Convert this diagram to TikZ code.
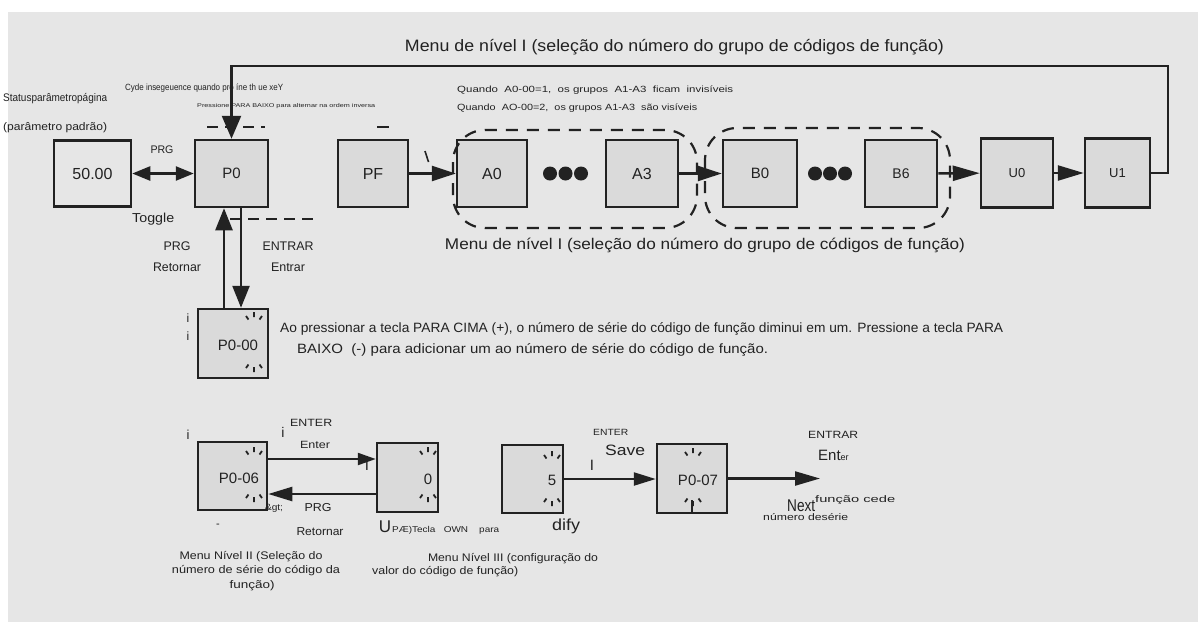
\documentclass[tikz,border=0pt]{standalone}
\usepackage{fontspec}
\setmainfont{Liberation Sans}
\usetikzlibrary{arrows.meta,calc}
\definecolor{bggray}{HTML}{E6E6E6}
\definecolor{boxgray}{HTML}{DADADA}
\definecolor{ink}{HTML}{222222}
\newcommand\fitw[2]{\resizebox{#1}{\height}{#2}}
\newcommand\fsz[1]{\fontsize{#1}{#1}\selectfont}
\tikzset{
  box/.style={draw=ink, line width=2.5pt, fill=boxgray, minimum width=70pt, minimum height=67pt, inner sep=0pt, text=ink, font=\fsz{15}},
  txt/.style={inner sep=0pt, text=ink},
  arr/.style={draw=ink, line width=2.5pt, -{Triangle[length=24pt,width=15pt]}},
  arrs/.style={draw=ink, line width=2.3pt, -{Triangle[length=22pt,width=13pt]}},
  arrv/.style={draw=ink, line width=2.5pt, -{Triangle[length=22pt,width=17pt]}},
  grp/.style={draw=ink, line width=2.2pt, dash pattern=on 12pt off 9pt, rounded corners=32pt},
  dsh/.style={draw=ink, line width=1.5pt, dash pattern=on 11pt off 7pt},
  stroke1/.style={draw=ink, line width=1.6pt},
  blinktop/.pic={\draw[draw=ink,line width=1.8pt] (-8,-2)--(-5.5,1.5) (0,-6)--(0,-1) (8,-2)--(5.5,1.5);},
  blinkbot/.pic={\draw[draw=ink,line width=1.8pt] (-8,2)--(-5.5,-1.5) (0,6)--(0,1) (8,2)--(5.5,-1.5);}
}
\begin{document}
\begin{tikzpicture}[x=1pt,y=-1pt]
\useasboundingbox (0,0) rectangle (1198,622);
\fill[white] (0,0) rectangle (1198,622);
\fill[bggray] (8,12) rectangle (1198,622);

% ---- top row boxes
\node[box, fill=bggray, minimum width=77pt, minimum height=66pt, font=\fsz{16}] (v5000) at (92.5,173.5) {50.00};
\node[box, minimum width=73pt, font=\fsz{15}] (P0) at (231.5,173.5) {P0};
\node[box, font=\fsz{16}] (PF) at (373,173.5) {PF};
\node[box, font=\fsz{16}] (A0) at (492,173.5) {A0};
\node[box, minimum width=72pt, font=\fsz{16}] (A3) at (642,173.5) {A3};
\node[box, minimum width=74pt, font=\fsz{15}] (B0) at (760,173.5) {B0};
\node[box, minimum width=72pt, font=\fsz{14}] (B6) at (901,173.5) {B6};
\node[box, minimum width=72pt, minimum height=69pt, font=\fsz{13}] (U0) at (1017,173) {U0};
\node[box, minimum width=65pt, minimum height=69pt, font=\fsz{13}] (U1) at (1117.5,173) {U1};

% dots
\foreach \cx in {550,565.5,581} \fill[ink] (\cx,173.5) circle (7pt);
\foreach \cx in {815,830,845} \fill[ink] (\cx,173.5) circle (7pt);

% dashed groups
\draw[grp] (453,130) rectangle (697,228);
\draw[grp] (705,128) rectangle (950,228);

% top connectors
\coordinate (loopR) at (1168,66);
\coordinate (loopL) at (231.5,66);
\draw[draw=ink, line width=2.5pt, line join=miter, -{Triangle[length=23pt,width=19pt]}] (U1.east) -| (loopR) -- (loopL) -- (P0.north);
\draw[draw=ink, line width=2.5pt, {Triangle[length=18pt,width=14pt]}-{Triangle[length=18pt,width=14pt]}] (v5000) -- (P0);
\draw[arr] (PF) -- (A0);
\draw[arr] (A3) -- (B0);
\draw[arr, -{Triangle[length=27pt,width=15pt]}] (B6) -- (U0);
\draw[arr, -{Triangle[length=26pt,width=15pt]}] (U0) -- (U1);

% small stray marks
\draw[dsh] (207,127) -- (265,127);
\draw[dsh] (230,219) -- (318,219);
\draw[stroke1] (377,127) -- (389,127);
\draw[stroke1] (425,151) -- (428.5,162);

% P0-00
\node[box, minimum width=70pt, minimum height=69pt] (P000) at (233,343.5) {};
\node[txt, font=\fsz{15}] (tP000) at (238,345) {P0-00};
\pic at (254,318) {blinktop};
\pic at (254,366) {blinkbot};
\draw[arrv] ($(P000.north)+(-9,0)$) -- ($(P0.south)+(-7.5,0)$);
\draw[arrv] ($(P0.south)+(9.5,0)$) -- ($(P000.north)+(8,0)$);

% bottom row
\node[box, minimum width=69pt, minimum height=68pt] (P006) at (232.5,476) {};
\node[txt, font=\fsz{15}] (tP006) at (239,478) {P0-06};
\node[box, minimum width=61pt, minimum height=69pt] (b0) at (407.5,477.5) {};
\node[txt, font=\fsz{15}] (tb0) at (428,479) {0};
\node[box, minimum width=61pt, minimum height=68pt] (b5) at (532.5,479) {};
\node[txt, font=\fsz{15}] (tb5) at (552,480) {5};
\node[box, minimum width=70pt, minimum height=69pt] (P007) at (692,478.5) {};
\node[txt, font=\fsz{15}] (tP007) at (698,480) {P0-07};
\pic at (254,453) {blinktop};
\pic at (254,496) {blinkbot};
\pic at (428,453) {blinktop};
\pic at (428,496) {blinkbot};
\pic at (552,457) {blinktop};
\pic at (552,500) {blinkbot};
\pic at (693,454) {blinktop};
\pic at (693,500) {blinkbot};
\draw[stroke1, line width=1.8pt] (692,500) -- (692,513);

\coordinate (e1) at ($(P006.east)+(0,-17)$);
\draw[arrs, -{Triangle[length=18pt,width=12pt]}] (e1) -- (e1 -| b0.west);
\coordinate (r1) at ($(b0.west)+(0,16.5)$);
\draw[arrs, -{Triangle[length=24pt,width=14pt]}] (r1) -- (r1 -| P006.east);
\draw[arrs] (b5.east) -- (b5.east -| P007.west);
\coordinate (nx) at (820,478.5);
\draw[arrs, -{Triangle[length=25pt,width=14pt]}] (P007.east) -- (nx);

% ---- texts
\node[txt] (h1) at (674.5,47) {\fitw{539pt}{\fsz{16.5}Menu de nível I (seleção do número do grupo de códigos de função)}};
\node[txt] (h2) at (705,245) {\fitw{520pt}{\fsz{15.5}Menu de nível I (seleção do número do grupo de códigos de função)}};
\node[txt, anchor=west] (q1) at (457,90) {\fitw{276pt}{\fsz{9}Quando~~A0-00=1,~~os grupos~~A1-A3~~ficam~~invisíveis}};
\node[txt, anchor=west] (q2) at (457,108) {\fitw{240pt}{\fsz{9}Quando~~AO-00=2,~~os grupos A1-A3~~são visíveis}};
\node[txt, anchor=west] (st1) at (3,99) {\fitw{104pt}{\fsz{11}Statusparâmetropágina}};
\node[txt, anchor=west] (st2) at (3,128) {\fitw{104pt}{\fsz{11}(parâmetro padrão)}};
\node[txt, anchor=west] (cy) at (125,88) {\fitw{158pt}{\fsz{9}Cyde insegeuence quando pro íne th ue xeY}};
\node[txt, anchor=west] (pr) at (197,106) {\fitw{178pt}{\fsz{5.5}Pressione PARA BAIXO para alternar na ordem inversa}};
\node[txt] (prg1) at (162,150) {\fitw{23pt}{\fsz{11}PRG}};
\node[txt, anchor=west] (tog) at (132,219) {\fitw{42pt}{\fsz{13}Toggle}};
\node[txt] (prg2) at (177,246) {\fitw{27pt}{\fsz{12.5}PRG}};
\node[txt] (ret1) at (177,267) {\fitw{48pt}{\fsz{12.5}Retornar}};
\node[txt] (ent1) at (288,246) {\fitw{51pt}{\fsz{12.5}ENTRAR}};
\node[txt] (ent2) at (288,267) {\fitw{34pt}{\fsz{12.5}Entrar}};
\node[txt, font=\fsz{12}] (ia) at (188,318) {i};
\node[txt, font=\fsz{12}] (ib) at (188,336) {i};
\node[txt, anchor=west] (d1) at (280,329) {\fitw{723pt}{\fsz{13.5}Ao pressionar a tecla PARA CIMA (+), o número de série do código de função diminui em um. Pressione a tecla PARA}};
\node[txt, anchor=west] (d2) at (297,350) {\fitw{471pt}{\fsz{13.5}BAIXO~ (-) para adicionar um ao número de série do código de função.}};

\node[txt, font=\fsz{13}] (ic) at (188,435) {i};
\node[txt, font=\fsz{14}] (id) at (283,432) {i};
\node[txt, anchor=west] (en1) at (290,423) {\fitw{42pt}{\fsz{10.5}ENTER}};
\node[txt] (en2) at (315,445) {\fitw{30pt}{\fsz{10.5}Enter}};
\node[txt, font=\fsz{15}] (bar1) at (367,465) {I};
\node[txt] (gt) at (274,508) {\fitw{18pt}{\fsz{9}\&gt;}};
\node[txt] (prg3) at (318,508) {\fitw{27pt}{\fsz{11.5}PRG}};
\node[txt] (ret2) at (320,532) {\fitw{47pt}{\fsz{11.5}Retornar}};
\node[txt, font=\fsz{11}] (mn) at (218,526) {-};
\node[txt, font=\fsz{17}] (uu) at (385,527) {U};
\node[txt, anchor=west] (pae) at (392,530) {\fitw{107pt}{\fsz{8.5}PÆ)Tecla~~~OWN~~~~para}};
\node[txt, anchor=west] (dify) at (552,526) {\fitw{28pt}{\fsz{16}dify}};
\node[txt, anchor=west] (en3) at (593,432) {\fitw{35pt}{\fsz{9}ENTER}};
\node[txt, anchor=west] (save) at (605,450) {\fitw{40pt}{\fsz{15}Save}};
\node[txt, font=\fsz{15}] (bar2) at (592,465) {I};
\node[txt, anchor=west] (en4) at (808,435) {\fitw{50pt}{\fsz{10.5}ENTRAR}};
\node[txt, anchor=west] (en5) at (818,455) {\fsz{15}Ent{\fsz{9}er}};
\node[txt, anchor=west] (nxt) at (787,506) {\fitw{28pt}{\fsz{17}Next}};
\node[txt, anchor=west] (fc) at (815,500) {\fitw{80pt}{\fsz{9.5}função cede}};
\node[txt, anchor=west] (nds) at (763,517) {\fitw{85pt}{\fsz{9.5}número desérie}};

\node[txt] (c1) at (251,557) {\fitw{143pt}{\fsz{11}Menu Nível II (Seleção do}};
\node[txt] (c2) at (256,571) {\fitw{168pt}{\fsz{11}número de série do código da}};
\node[txt] (c3) at (252,586) {\fitw{45pt}{\fsz{11}função)}};
\node[txt] (c4) at (513,559) {\fitw{170pt}{\fsz{11}Menu Nível III (configuração do}};
\node[txt, anchor=west] (c5) at (372,572) {\fitw{146pt}{\fsz{11}valor do código de função)}};
\end{tikzpicture}
\end{document}
